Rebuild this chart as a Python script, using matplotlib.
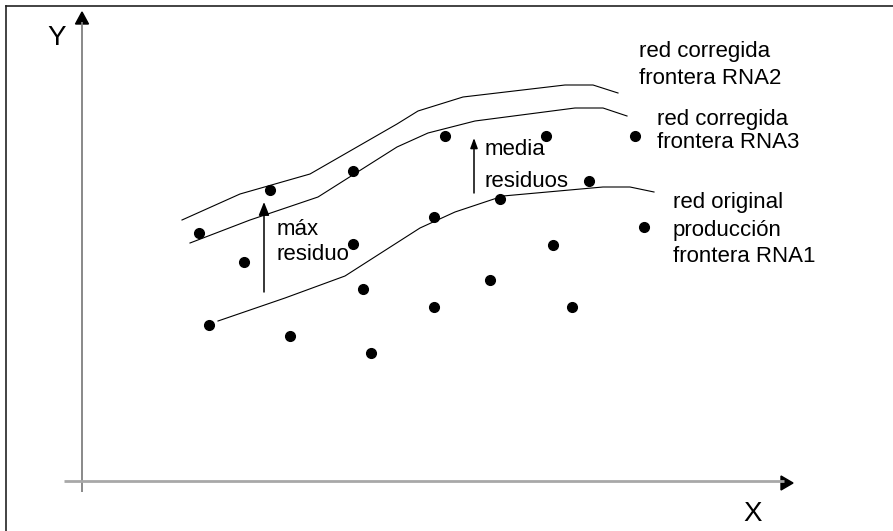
import matplotlib
matplotlib.use("Agg")
import matplotlib.pyplot as plt
from matplotlib.patches import Polygon

plt.rcParams['font.family'] = ['Liberation Sans', 'DejaVu Sans']

# Data (schematic, in picture coordinates: x to the right, y downward)
pts_x = [199, 244, 270, 290, 353, 353, 363, 371, 434, 434, 445, 490, 500, 546, 553, 572, 589, 635, 644, 209]
pts_y = [233, 262, 190, 336, 171, 244, 289, 353, 217, 307, 136, 280, 199, 136, 245, 307, 181, 136, 227, 325]

rna2_x = [182, 240, 310, 397, 418, 463, 565, 593, 618]
rna2_y = [220, 194, 174, 124, 111, 97, 85, 85, 93]

rna3_x = [190, 250, 318, 397, 428, 475, 575, 603, 627]
rna3_y = [243, 220, 197, 147, 133, 121, 108, 108, 116]

rna1_x = [218, 285, 345, 420, 455, 503, 603, 630, 654]
rna1_y = [321, 298, 276, 228, 212, 196, 187, 187, 192]

fig = plt.figure(figsize=(8.93, 5.31), dpi=100)
ax = fig.add_axes([0, 0, 1, 1])
ax.set_xlim(0, 893)
ax.set_ylim(531, 0)
ax.axis('off')

# frame (top and left edges)
ax.plot([6, 893], [6, 6], color='#222222', lw=1.2)
ax.plot([6, 6], [6, 531], color='#222222', lw=1.2)

# axes
ax.plot([82, 82], [492, 22], color='#808080', lw=1.3, solid_capstyle='butt')
ax.plot([64, 784], [481, 481], color='#a8a8a8', lw=2.0, solid_capstyle='butt')
ax.add_patch(Polygon([[82, 12], [75.5, 24], [88.5, 24]], closed=True, color='black'))
ax.add_patch(Polygon([[793, 483], [781, 476], [781, 490]], closed=True, color='black'))

# frontier lines
for lx, ly in [(rna2_x, rna2_y), (rna3_x, rna3_y), (rna1_x, rna1_y)]:
    ax.plot(lx, ly, color='black', lw=0.8)

# points
ax.plot(pts_x, pts_y, 'o', color='black', ms=7, mec='black')

# residual arrows
ax.annotate('', xy=(264, 202), xytext=(264, 292),
            arrowprops=dict(arrowstyle='-|>,head_length=0.8,head_width=0.32', lw=1.1, color='black',
                            shrinkA=0, shrinkB=0))
ax.annotate('', xy=(474, 138), xytext=(474, 193),
            arrowprops=dict(arrowstyle='-|>,head_length=0.6,head_width=0.22', lw=1.1, color='black',
                            shrinkA=0, shrinkB=0))

fs = 16
def t(x, y, s, size=fs):
    ax.text(x, y, s, fontsize=size, va='baseline', ha='left', color='black')

t(47, 45, 'Y', 20)
t(743, 521, 'X', 20)
t(277, 235, 'máx')
t(277, 260, 'residuo')
t(485, 155, 'media')
t(485, 187, 'residuos')
t(639, 57, 'red corregida')
t(639, 84, 'frontera RNA2')
t(657, 125, 'red corregida')
t(657, 148, 'frontera RNA3')
t(673, 208, 'red original')
t(673, 236, 'producción')
t(673, 262, 'frontera RNA1')

fig.savefig('out.png', dpi=100)
